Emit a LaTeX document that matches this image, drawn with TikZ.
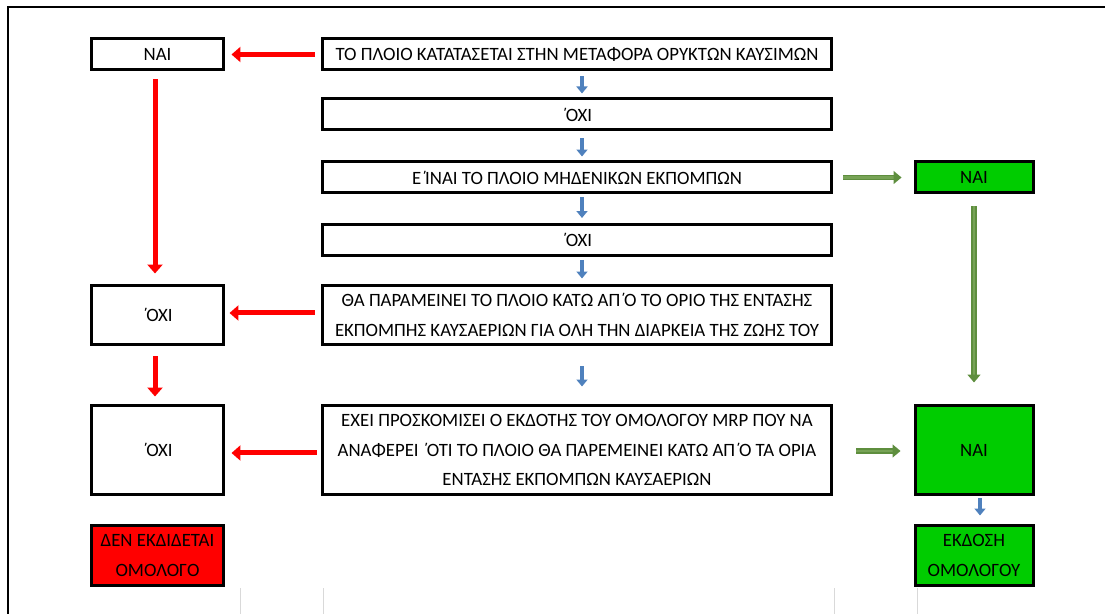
\documentclass[tikz,border=0pt]{standalone}
\usepackage{fontspec}
\setmainfont{Carlito}
\usetikzlibrary{arrows.meta}

\definecolor{redbox}{HTML}{FF0000}
\definecolor{greenbox}{HTML}{00CC00}
\definecolor{bluearrow}{HTML}{4F81BD}
\definecolor{greenarrow}{HTML}{5E8E3E}
\definecolor{greenlight}{HTML}{77A356}

% tonos set close to the capital that follows it
\newcommand{\tns}{΄\kern-0.11em}

\tikzset{
	box/.style={draw=black, line width=0.06cm, align=center, inner sep=0pt,
		font=\fontsize{10.7}{17}\selectfont},
	widebox/.style={box, minimum width=10.2cm, minimum height=0.62cm},
	leftbox/.style={box, minimum width=2.66cm, minimum height=0.62cm},
	rightbox/.style={box, minimum width=2.36cm, minimum height=0.62cm, fill=greenbox},
	noarrow/.style={redbox, line width=0.1cm, -{Triangle[length=0.18cm,width=0.3cm]}},
	nextarrow/.style={bluearrow, line width=0.09cm, -{Triangle[length=0.14cm,width=0.22cm]}},
	yesarrow/.style={draw=greenarrow, double=greenlight, double distance=0.05cm, line width=0.03cm,
		-{Triangle[length=0.16cm,width=0.26cm]}},
}

\begin{document}
\begin{tikzpicture}[x=0.02cm, y=-0.02cm]
		
		\useasboundingbox (0,0) rectangle (1105,614);
		
		% Frame
		\draw[line width=0.05cm] (8,614) -- (8,7) -- (1105,7);
		\foreach \gx in {240,323,834,917}
		\draw[black!15] (\gx,588) -- (\gx,614);
		
		% Middle column
		\node[widebox] (vessel) at (577,54.5) {ΤΟ ΠΛΟΙΟ ΚΑΤΑΤΑΣΕΤΑΙ ΣΤΗΝ ΜΕΤΑΦΟΡΑ ΟΡΥΚΤΩΝ ΚΑΥΣΙΜΩΝ};
		\node[widebox] (no1) at (577,114.5) {\tns ΟΧΙ};
		\node[widebox] (zero) at (577,177.5) {Ε\tns ΙΝΑΙ ΤΟ ΠΛΟΙΟ ΜΗΔΕΝΙΚΩΝ ΕΚΠΟΜΠΩΝ};
		\node[widebox] (no2) at (577,240) {\tns ΟΧΙ};
		\node[widebox, minimum height=1.2cm] (limit) at (577,315)
		{ΘΑ ΠΑΡΑΜΕΙΝΕΙ ΤΟ ΠΛΟΙΟ ΚΑΤΩ ΑΠ\tns Ο ΤΟ ΟΡΙΟ ΤΗΣ ΕΝΤΑΣΗΣ\\ΕΚΠΟΜΠΗΣ ΚΑΥΣΑΕΡΙΩΝ ΓΙΑ ΟΛΗ ΤΗΝ ΔΙΑΡΚΕΙΑ ΤΗΣ ΖΩΗΣ ΤΟΥ};
		\node[widebox, minimum height=1.8cm] (issuer) at (577,450)
		{ΕΧΕΙ ΠΡΟΣΚΟΜΙΣΕΙ Ο ΕΚΔΟΤΗΣ ΤΟΥ ΟΜΟΛΟΓΟΥ MRP ΠΟΥ ΝΑ\\ΑΝΑΦΕΡΕΙ \tns ΟΤΙ ΤΟ ΠΛΟΙΟ ΘΑ ΠΑΡΕΜΕΙΝΕΙ ΚΑΤΩ ΑΠ\tns Ο ΤΑ ΟΡΙΑ\\ΕΝΤΑΣΗΣ ΕΚΠΟΜΠΩΝ ΚΑΥΣΑΕΡΙΩΝ};
		
		% Left column
		\node[leftbox] (yesfuel) at (157.5,54.5) {ΝΑΙ};
		\node[leftbox, minimum height=1.2cm] (nolimit) at (157.5,315) {\tns ΟΧΙ};
		\node[leftbox, minimum height=1.8cm] (noissuer) at (157.5,450) {\tns ΟΧΙ};
		\node[leftbox, minimum height=1.22cm, fill=redbox] (nobond) at (157.5,555.5) {ΔΕΝ ΕΚΔΙΔΕΤΑΙ\\ΟΜΟΛΟΓΟ};
		
		% Right column
		\node[rightbox] (yeszero) at (974,177.5) {ΝΑΙ};
		\node[rightbox, minimum height=1.8cm] (yesissuer) at (974,450) {ΝΑΙ};
		\node[rightbox, minimum height=1.22cm] (bond) at (974,555.5) {ΕΚΔΟΣΗ\\ΟΜΟΛΟΓΟΥ};
		
		%% Red arrows
		\draw[noarrow, shorten <=0.12cm, shorten >=0.12cm] (vessel.west) -- (yesfuel.east);
		\draw[noarrow, shorten <=0.16cm, shorten >=0.2cm] ([xshift=-0.05cm]yesfuel.south) -- ([xshift=-0.05cm]nolimit.north);
		\draw[noarrow, shorten <=0.12cm, shorten >=0.08cm] ([yshift=0.04cm]limit.west) -- ([yshift=0.04cm]nolimit.east);
		\draw[noarrow, shorten <=0.2cm, shorten >=0.14cm] ([xshift=-0.05cm]nolimit.south) -- ([xshift=-0.05cm]noissuer.north);
		\draw[noarrow, shorten <=0.08cm, shorten >=0.12cm] ([yshift=-0.06cm]issuer.west) -- ([yshift=-0.06cm]noissuer.east);
		
		%% Blue arrows
		\draw[nextarrow, shorten <=0.1cm, shorten >=0.08cm] ([xshift=0.1cm]vessel.south) -- ([xshift=0.1cm]no1.north);
		\draw[nextarrow, shorten <=0.14cm, shorten >=0.08cm] ([xshift=0.1cm]no1.south) -- ([xshift=0.1cm]zero.north);
		\draw[nextarrow, shorten <=0.06cm, shorten >=0.1cm] ([xshift=0.1cm]zero.south) -- ([xshift=0.1cm]no2.north);
		\draw[nextarrow, shorten <=0.06cm, shorten >=0.1cm] ([xshift=0.1cm]no2.south) -- ([xshift=0.1cm]limit.north);
		\draw[nextarrow, shorten <=0.4cm, shorten >=0.34cm] ([xshift=0.1cm]limit.south) -- ([xshift=0.1cm]issuer.north);
		\draw[nextarrow, line width=0.07cm, shorten <=0.04cm, shorten >=0.16cm] ([xshift=0.12cm]yesissuer.south) -- ([xshift=0.12cm]bond.north);
		
		%% Green arrows
		\draw[yesarrow, shorten <=0.2cm, shorten >=0.24cm] (zero.east) -- (yeszero.west);
		\draw[yesarrow, shorten <=0.24cm, shorten >=0.42cm] (yeszero.south) -- (yesissuer.north);
		\draw[yesarrow, shorten <=0.46cm, shorten >=0.26cm] ([yshift=-0.02cm]issuer.east) -- ([yshift=-0.02cm]yesissuer.west);
		
	\end{tikzpicture}
\end{document}
